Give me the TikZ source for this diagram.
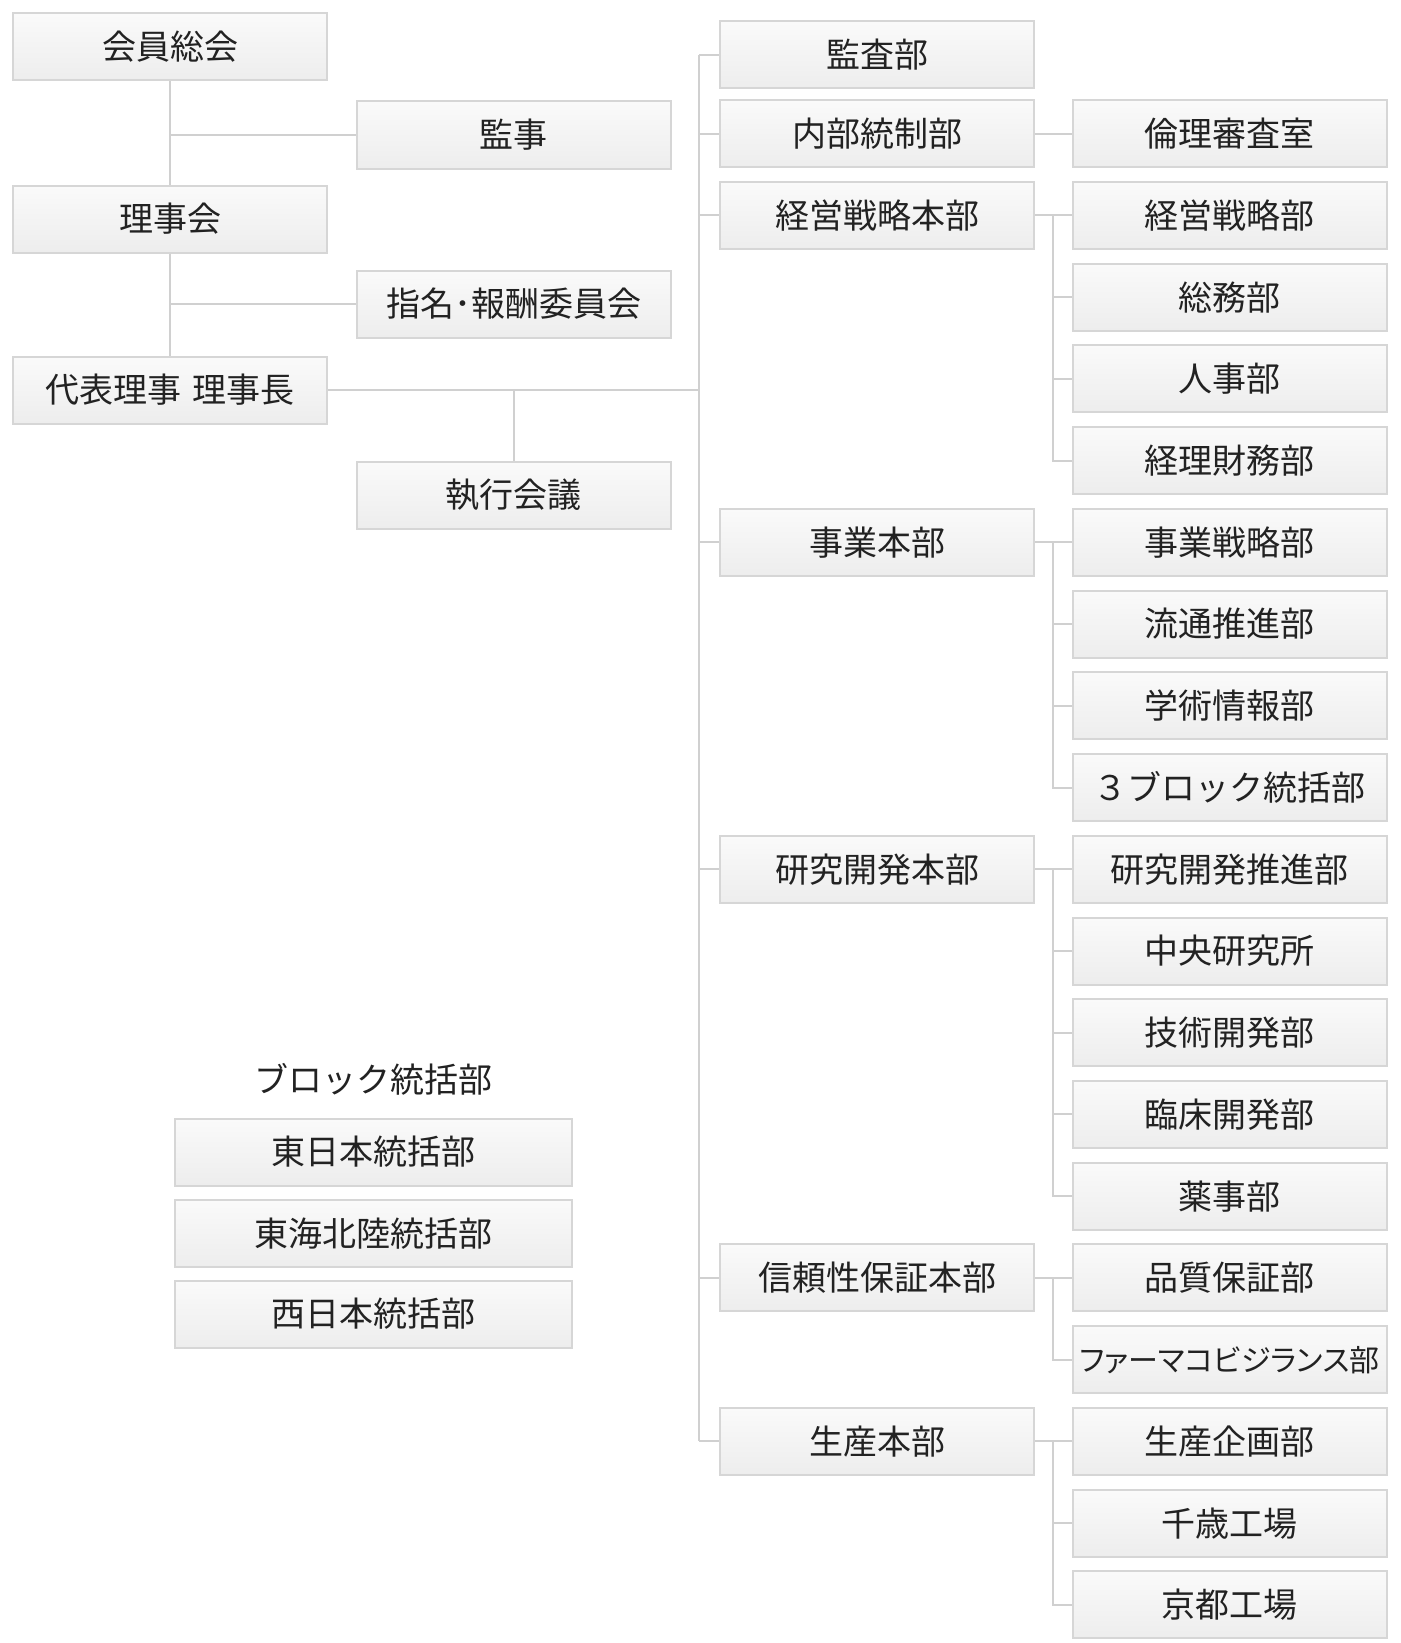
\documentclass[tikz,border=0pt]{standalone}
\usepackage{fontspec}
\setmainfont{Noto Sans CJK JP}
\newfontfamily\kana[RawFeature=+palt]{Noto Sans CJK JP}
\usetikzlibrary{calc}
\definecolor{boxline}{HTML}{D6D6D6}
\definecolor{connline}{HTML}{D0D0D0}
\definecolor{boxtop}{HTML}{FAFAFA}
\definecolor{boxbot}{HTML}{EDEDED}
\definecolor{ink}{HTML}{222222}
\tikzset{
  unit/.style={draw=boxline,line width=2pt,top color=boxtop,bottom color=boxbot,
    minimum height=67pt,inner sep=0pt,text=ink,font=\fontsize{34}{40}\selectfont},
  wide/.style={unit,minimum width=314pt},
  blk/.style={unit,minimum width=397pt},
  conn/.style={draw=connline,line width=2pt}
}
\begin{document}
\begin{tikzpicture}[x=1pt,y=-1pt]
\useasboundingbox (0,0) rectangle (1400,1643);
\def\h{81.74}
% left side
\node[wide] (a1) at (170,47) {会員総会};
\node[wide] (a2) at (170,219) {理事会};
\node[wide] (a3) at (170,390) {代表理事\hspace{0.3em}理事長};
\node[wide] (b1) at (513.5,135) {監事};
\node[wide] (b2) at (513.5,304) {指名･報酬委員会};
\node[wide] (b3) at (513.5,495) {執行会議};

% middle column
\node[wide] (c0) at (877,55) {監査部};
\node[wide] (c1) at (877,133.6) {内部統制部};
\node[wide] (c2) at (877,133.6+1*\h) {経営戦略本部};
\node[wide] (c3) at (877,133.6+5*\h) {事業本部};
\node[wide] (c4) at (877,133.6+9*\h) {研究開発本部};
\node[wide] (c5) at (877,133.6+14*\h) {信頼性保証本部};
\node[wide] (c6) at (877,133.6+16*\h) {生産本部};

% right column
\node[wide] (d1) at (1229.5,133.6) {倫理審査室};
\node[wide] (d2) at (1229.5,133.6+1*\h) {経営戦略部};
\node[wide] (d3) at (1229.5,133.6+2*\h) {総務部};
\node[wide] (d4) at (1229.5,133.6+3*\h) {人事部};
\node[wide] (d5) at (1229.5,133.6+4*\h) {経理財務部};
\node[wide] (d6) at (1229.5,133.6+5*\h) {事業戦略部};
\node[wide] (d7) at (1229.5,133.6+6*\h) {流通推進部};
\node[wide] (d8) at (1229.5,133.6+7*\h) {学術情報部};
\node[wide] (d9) at (1229.5,133.6+8*\h) {３ブロック統括部};
\node[wide] (d10) at (1229.5,133.6+9*\h) {研究開発推進部};
\node[wide] (d11) at (1229.5,133.6+10*\h) {中央研究所};
\node[wide] (d12) at (1229.5,133.6+11*\h) {技術開発部};
\node[wide] (d13) at (1229.5,133.6+12*\h) {臨床開発部};
\node[wide] (d14) at (1229.5,133.6+13*\h) {薬事部};
\node[wide] (d15) at (1229.5,133.6+14*\h) {品質保証部};
\node[wide,font=\kana\fontsize{30}{36}\selectfont] (d16) at (1229.5,133.6+15*\h) {ファーマコビジランス部};
\node[wide] (d17) at (1229.5,133.6+16*\h) {生産企画部};
\node[wide] (d18) at (1229.5,133.6+17*\h) {千歳工場};
\node[wide] (d19) at (1229.5,133.6+18*\h) {京都工場};

% block offices
\node[text=ink,font=\fontsize{34}{40}\selectfont] (e0) at (373.5,1079) {ブロック統括部};
\node[blk] (e1) at (373.5,1152) {東日本統括部};
\node[blk] (e2) at (373.5,1233.5) {東海北陸統括部};
\node[blk] (e3) at (373.5,1314) {西日本統括部};

% connectors
\draw[conn] (a1) -- (a2) -- (a3);
\draw[conn] (a1 |- b1) -- (b1.west);
\draw[conn] (a1 |- b2) -- (b2.west);
\coordinate (sp) at ($(c0.west)+(-20,0)$);
\draw[conn] (sp) -- (sp |- c6);
\foreach \i in {0,...,6}
  \draw[conn] (sp |- c\i) -- (c\i.west);
\draw[conn] (a3.east) -- (sp |- a3);
\draw[conn] (b3.north) -- (b3 |- a3);

\draw[conn] (c1.east) -- (d1.west);
\draw[conn] (c2.east) -- (d2.west);
\draw[conn] ($(d2.west)+(-19,0)$) |- (d5.west);
\foreach \i in {3,4}
  \draw[conn] ($(d\i.west)+(-19,0)$) -- (d\i.west);
\draw[conn] (c3.east) -- (d6.west);
\draw[conn] ($(d6.west)+(-19,0)$) |- (d9.west);
\foreach \i in {7,8}
  \draw[conn] ($(d\i.west)+(-19,0)$) -- (d\i.west);
\draw[conn] (c4.east) -- (d10.west);
\draw[conn] ($(d10.west)+(-19,0)$) |- (d14.west);
\foreach \i in {11,12,13}
  \draw[conn] ($(d\i.west)+(-19,0)$) -- (d\i.west);
\draw[conn] (c5.east) -- (d15.west);
\draw[conn] ($(d15.west)+(-19,0)$) |- (d16.west);
\draw[conn] (c6.east) -- (d17.west);
\draw[conn] ($(d17.west)+(-19,0)$) |- (d19.west);
\draw[conn] ($(d18.west)+(-19,0)$) -- (d18.west);
\end{tikzpicture}
\end{document}
